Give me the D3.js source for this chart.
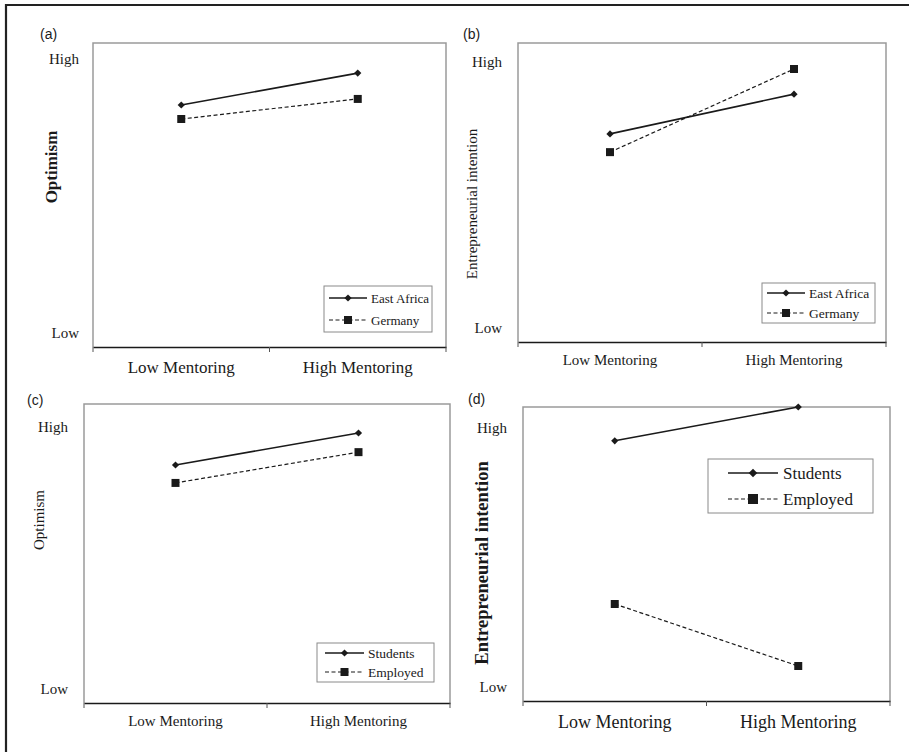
<!DOCTYPE html>
<html>
<head>
<meta charset="utf-8">
<script src="https://cdn.jsdelivr.net/npm/d3@7"></script>
<style>
  html, body { margin: 0; padding: 0; background: #fff; }
  svg { display: block; }
</style>
</head>
<body>
<svg id="chart" width="909" height="752"></svg>
<script>
// ---------- DATA ----------
const categories = ["Low Mentoring", "High Mentoring"];
const yTickLabels = ["Low", "High"];

// Panel (a): Optimism by region
const aSeriesNames = ["East Africa", "Germany"];
const aEastAfrica = [79.6, 90.1];
const aGermany = [75.0, 81.6];
const aTickValues = [5, 95];

// Panel (b): Entrepreneurial intention by region
const bSeriesNames = ["East Africa", "Germany"];
const bEastAfrica = [69.6, 82.9];
const bGermany = [63.5, 91.3];
const bTickValues = [5, 94];

// Panel (c): Optimism by status
const cSeriesNames = ["Students", "Employed"];
const cStudents = [79.6, 90.3];
const cEmployed = [73.6, 83.9];
const cTickValues = [5, 92.6];

// Panel (d): Entrepreneurial intention by status
const dSeriesNames = ["Students", "Employed"];
const dStudents = [88.5, 100];
const dEmployed = [33.0, 11.9];
const dTickValues = [5, 93.2];

const panelLabels = ["(a)", "(b)", "(c)", "(d)"];
const yTitles = ["Optimism", "Entrepreneurial intention", "Optimism", "Entrepreneurial intention"];

// ---------- LAYOUT ----------
const panels = [
  { label: panelLabels[0], title: yTitles[0], names: aSeriesNames, series: [aEastAfrica, aGermany], ticks: aTickValues,
    box: [93, 43, 446, 347], labelPos: [40, 34], titlePos: [51, 167], titleSize: 17, titleBold: true,
    tickX: 79, tickSize: 15, xSize: 17, xBase: 373,
    legend: { x: 324, y: 286, w: 108, h: 46, rows: [298, 320], l0: 329, l1: 367, tx: 371, fs: 13, sq: 8, dm: 3.6 } },
  { label: panelLabels[1], title: yTitles[1], names: bSeriesNames, series: [bEastAfrica, bGermany], ticks: bTickValues,
    box: [518, 43, 886, 342], labelPos: [463, 34], titlePos: [472, 204], titleSize: 15, titleBold: false,
    tickX: 502, tickSize: 15, xSize: 15, xBase: 365,
    legend: { x: 762, y: 283, w: 113, h: 40, rows: [293, 313], l0: 767, l1: 805, tx: 809, fs: 13.5, sq: 8, dm: 3.6 } },
  { label: panelLabels[2], title: yTitles[2], names: cSeriesNames, series: [cStudents, cEmployed], ticks: cTickValues,
    box: [84, 404, 450, 703], labelPos: [27, 400], titlePos: [39, 520], titleSize: 15, titleBold: false,
    tickX: 68, tickSize: 15, xSize: 15, xBase: 726,
    legend: { x: 317, y: 643, w: 117, h: 39, rows: [653, 672], l0: 325, l1: 364, tx: 368, fs: 13.5, sq: 8, dm: 3.6 } },
  { label: panelLabels[3], title: yTitles[3], names: dSeriesNames, series: [dStudents, dEmployed], ticks: dTickValues,
    box: [523, 407, 890, 701], labelPos: [468, 399], titlePos: [482, 563], titleSize: 18.5, titleBold: true,
    tickX: 507, tickSize: 15, xSize: 18, xBase: 728,
    legend: { x: 708, y: 459, w: 165, h: 54, rows: [473, 499], l0: 728, l1: 778, tx: 783, fs: 17, sq: 10, dm: 4.3 } }
];

const serif = "'Liberation Serif', 'Times New Roman', serif";
const sans = "'Liberation Sans', Arial, sans-serif";
const ink = "#1a1a1a";

const svg = d3.select("#chart");

// outer frame (top and left rules)
svg.append("line").attr("x1", 5).attr("x2", 909).attr("y1", 5).attr("y2", 5)
  .attr("stroke", "#222").attr("stroke-width", 2.2);
svg.append("line").attr("x1", 6).attr("x2", 6).attr("y1", 4).attr("y2", 752)
  .attr("stroke", "#222").attr("stroke-width", 2.2);

function diamond(r) { return `M0,${-r}L${r},0L0,${r}L${-r},0Z`; }
function square(s) { const h = s / 2; return `M${-h},${-h}H${h}V${h}H${-h}Z`; }

panels.forEach(p => {
  const [x0, y0, x1, y1] = p.box;
  const g = svg.append("g");

  const x = d3.scaleBand().domain(categories).range([x0, x1]).padding(0);
  const y = d3.scaleLinear().domain([0, 100]).range([y1, y0]);

  // plot area frame (grey)
  g.append("path")
    .attr("d", `M${x0},${y1}V${y0}H${x1}V${y1}`)
    .attr("fill", "none").attr("stroke", "#9a9a9a").attr("stroke-width", 1.5);

  // x axis
  const xAxis = d3.axisBottom(x).tickSize(0).tickFormat("");
  const gx = g.append("g").attr("transform", `translate(0,${y1})`).call(xAxis);
  gx.select(".domain").attr("stroke", ink).attr("stroke-width", 1.6);
  // boundary ticks between categories
  const bounds = [x0, x0 + x.bandwidth(), x1];
  gx.selectAll("line.bt").data(bounds).enter().append("line")
    .attr("class", "bt").attr("x1", d => d).attr("x2", d => d)
    .attr("y1", 0).attr("y2", 5).attr("stroke", "#555").attr("stroke-width", 1);
  // category labels
  g.selectAll("text.cat").data(categories).enter().append("text")
    .attr("class", "cat")
    .attr("x", d => x(d) + x.bandwidth() / 2).attr("y", p.xBase)
    .attr("text-anchor", "middle")
    .attr("font-family", serif).attr("font-size", p.xSize).attr("fill", ink)
    .text(d => d);

  // y tick labels
  const yAxis = d3.axisLeft(y).tickValues(p.ticks).tickSize(0).tickFormat((d, i) => yTickLabels[i]);
  const gy = g.append("g").attr("transform", `translate(${p.tickX},0)`).call(yAxis);
  gy.select(".domain").remove();
  gy.selectAll("text")
    .attr("x", 0).attr("dy", "0.35em")
    .attr("font-family", serif).attr("font-size", p.tickSize).attr("fill", ink);

  // y title
  g.append("text")
    .attr("transform", `translate(${p.titlePos[0]},${p.titlePos[1]}) rotate(-90)`)
    .attr("text-anchor", "middle").attr("dy", "0.35em")
    .attr("font-family", serif).attr("font-size", p.titleSize)
    .attr("font-weight", p.titleBold ? "bold" : "normal").attr("fill", ink)
    .text(p.title);

  // panel label
  g.append("text")
    .attr("x", p.labelPos[0]).attr("y", p.labelPos[1]).attr("dy", "0.35em")
    .attr("font-family", sans).attr("font-size", 14).attr("fill", ink)
    .text(p.label);

  // series
  const line = d3.line().x((d, i) => x(categories[i]) + x.bandwidth() / 2).y(d => y(d));
  p.series.forEach((vals, si) => {
    g.append("path").datum(vals)
      .attr("d", line).attr("fill", "none").attr("stroke", ink)
      .attr("stroke-width", si === 0 ? 1.6 : 1.2)
      .attr("stroke-dasharray", si === 0 ? null : "4,2.5");
    g.selectAll(null).data(vals).enter().append("path")
      .attr("transform", (d, i) => `translate(${x(categories[i]) + x.bandwidth() / 2},${y(d)})`)
      .attr("d", si === 0 ? diamond(3.6) : square(8))
      .attr("fill", ink);
  });

  // legend
  const L = p.legend;
  const lg = g.append("g");
  lg.append("rect").attr("x", L.x).attr("y", L.y).attr("width", L.w).attr("height", L.h)
    .attr("fill", "#fff").attr("stroke", "#8a8a8a").attr("stroke-width", 1);
  p.names.forEach((name, si) => {
    const ry = L.rows[si];
    lg.append("line").attr("x1", L.l0).attr("x2", L.l1).attr("y1", ry).attr("y2", ry)
      .attr("stroke", ink).attr("stroke-width", si === 0 ? 1.6 : 1.2)
      .attr("stroke-dasharray", si === 0 ? null : "4,2.5");
    lg.append("path").attr("transform", `translate(${(L.l0 + L.l1) / 2},${ry})`)
      .attr("d", si === 0 ? diamond(L.dm) : square(L.sq)).attr("fill", ink);
    lg.append("text").attr("x", L.tx).attr("y", ry).attr("dy", "0.35em")
      .attr("font-family", serif).attr("font-size", L.fs).attr("fill", ink)
      .text(name);
  });
});
</script>
</body>
</html>
